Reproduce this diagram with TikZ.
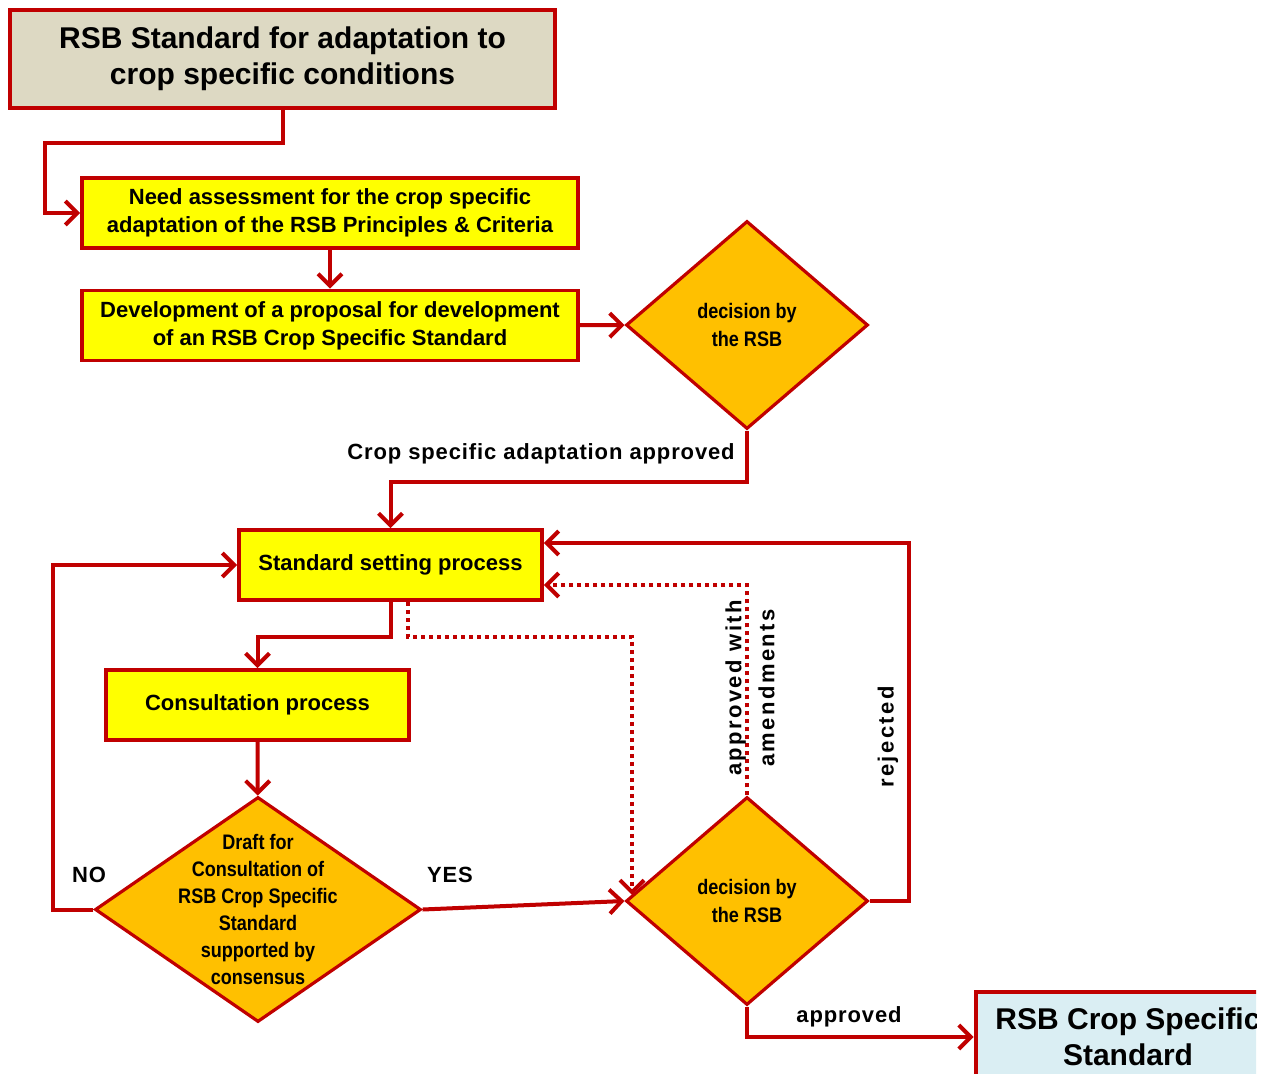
\documentclass[tikz,border=0pt]{standalone}
\usepackage{fontspec}
\setmainfont{Liberation Sans}
\newfontfamily\narrowfont[FakeStretch=0.86]{Liberation Sans}
\newfontfamily\lblfont[LetterSpace=4]{Liberation Sans}
\newfontfamily\vlblfont[LetterSpace=11]{Liberation Sans}
\usetikzlibrary{shapes.geometric,arrows.meta,positioning}
\definecolor{rsbred}{HTML}{C00000}
\definecolor{rsbyellow}{HTML}{FFFF00}
\definecolor{rsborange}{HTML}{FFC000}
\definecolor{rsbtan}{HTML}{DDD9C3}
\definecolor{rsbblue}{HTML}{DAEEF3}
\begin{document}
\begin{tikzpicture}[x=0.5pt,y=-0.5pt,
  box/.style={rectangle,draw=rsbred,line width=1.9pt,fill=rsbyellow,minimum width=248pt,minimum height=35pt,inner sep=0pt,align=center,font=\fontsize{11}{14}\selectfont\bfseries},
  bigbox/.style={box,line width=2.4pt,fill=rsbtan,minimum width=272.5pt,minimum height=49pt,font=\fontsize{15}{18}\selectfont\bfseries},
  decision/.style={diamond,aspect=1.16,draw=rsbred,line width=1.6pt,fill=rsborange,minimum width=121pt,minimum height=104pt,inner sep=0pt,align=center,font=\narrowfont\bfseries\fontsize{10.5}{14}\selectfont},
  dtext/.style={align=center,inner sep=0pt,font=\narrowfont\bfseries\fontsize{10.5}{13.5}\selectfont},
  conn/.style={draw=rsbred,line width=2pt,-{Straight Barb[length=6pt,width=12pt]}},
  dotconn/.style={conn,dash pattern=on 2pt off 2pt},
  lbl/.style={inner sep=0pt,font=\lblfont\bfseries\fontsize{11}{14}\selectfont},
  vlbl/.style={lbl,rotate=90,align=center,font=\vlblfont\bfseries\fontsize{11}{16.5}\selectfont}]

  \useasboundingbox (0,0) rectangle (1272,1074);

  \node[bigbox] (title) at (282.5,59) {RSB Standard for adaptation to\\crop specific conditions};
  \node[box] (need) at (330,213) {Need assessment for the crop specific\\adaptation of the RSB Principles \& Criteria};
  \node[box] (develop) at (330,325.5) {Development of a proposal for development\\of an RSB Crop Specific Standard};
  \node[decision] (dec1) at (747,325) {decision by\\the RSB};
  \node[box,minimum width=151.5pt] (standard) at (390.5,565) {Standard setting process};
  \node[box,minimum width=151.5pt] (consult) at (257.5,705) {Consultation process};
  \node[decision,minimum width=163pt,minimum height=112.5pt] (draft) at (258,909.5) {};
  \node[dtext] (drafttext) at (draft) {Draft for\\Consultation of\\RSB Crop Specific\\Standard\\supported by\\consensus};
  \node[decision] (dec2) at (747,901) {decision by\\the RSB};
  \begin{scope}
    \clip (900,950) rectangle (1256,1074);
    \node[bigbox,fill=rsbblue,minimum width=152pt,minimum height=45pt] (final) at (1128,1037) {RSB Crop Specific\\Standard};
  \end{scope}

  \coordinate (dtip) at (632,895);

  \path
    (need) edge[conn] (develop)
    (develop) edge[conn] (dec1)
    (consult) edge[conn] (draft)
    (draft.east) edge[conn] (dec2.west);
  \draw[conn] (title.south) |- (45,143) |- (need.west);
  \draw[conn] (dec1.south) -- ++(0,51) -| (standard.north);
  \draw[conn] (standard.south) -- ++(0,35) -| (consult.north);
  \draw[dotconn] ([xshift=8.75pt]standard.south) -- ++(0,35) -| (dtip);
  \draw[conn] (draft.west) -- ++(-40,0) |- (standard.west);
  \draw[conn] (dec2.east) -- ++(39,0) |- ([yshift=11pt]standard.east);
  \draw[dotconn] (dec2.north) |- ([yshift=-10pt]standard.east);
  \draw[conn] (dec2.south) |- (final.west);

  \node[lbl] (cropok) at (541,454) {Crop specific adaptation approved};
  \node[lbl] (no) at (89,875) {NO};
  \node[lbl] (yes) at (450,875) {YES};
  \node[vlbl] (rej) at (888,737) {rejected};
  \node[vlbl] (amend) at (750,688) {approved with\\amendments};
  \node[lbl] (ok) at (849,1017) {approved};
\end{tikzpicture}
\end{document}
